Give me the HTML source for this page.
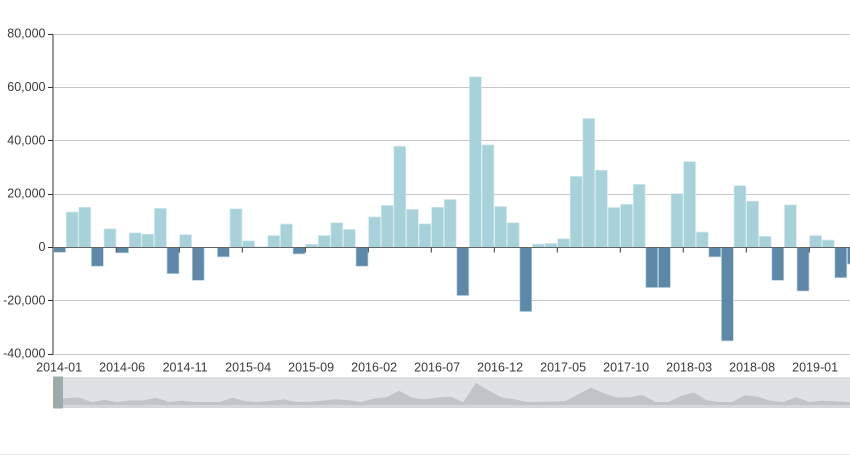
<!DOCTYPE html>
<html lang="en">
<head>
<meta charset="utf-8">
<title>Monthly bar chart</title>
<style>
html,body{margin:0;padding:0;background:#fff;}
svg{display:block;}
text{font-family:"Liberation Sans",sans-serif;font-size:12.5px;fill:#3a3a3a;}
</style>
</head>
<body>
<svg id="chart" xmlns="http://www.w3.org/2000/svg" width="850" height="456" viewBox="0 0 850 456"></svg>
<script>
const categoryStartYear = 2014;
const categoryStartMonth = 1;
const seriesValues = [
  -1800, 13300, 15100, -7000, 7000, -2000, 5500, 5000, 14700, -9800,
  4800, -12300, 0, -3500, 14500, 2500, 300, 4500, 8800, -2400,
  1200, 4500, 9300, 6800, -7000, 11500, 15800, 38000, 14300, 8900,
  15100, 18000, -18000, 64000, 38500, 15400, 9300, -24000, 1300, 1500,
  3300, 26700, 48400, 29000, 15000, 16200, 23700, -15000, -15000, 20200,
  32200, 5800, -3500, -35000, 23200, 17400, 4200, -12300, 16000, -16300,
  4500, 2800, -11300, -6200
];
const yTicks = [80000, 60000, 40000, 20000, 0, -20000, -40000];
const labelInterval = 5;

const svg = document.getElementById('chart');
const NS = 'http://www.w3.org/2000/svg';
const plotLeft = 53.3, plotRight = 850, plotTop = 34.2, plotBottom = 354.2;
const bandWidth = 12.6;
const shadowStep = 12.81;
const yMax = 80000, yMin = -40000;
const thumbTop = 377, thumbBottom = 408, thumbBase = 405, thumbZero = 402, thumbPerUnit = 19 / 64000;

function yScale(v) {
  return plotTop + (yMax - v) / (yMax - yMin) * (plotBottom - plotTop);
}
function ySnap(v) {
  return Math.floor(yScale(v)) + 0.5;
}
function xBand(i) {
  return plotLeft + i * bandWidth;
}
function xShadow(i) {
  return plotLeft + i * shadowStep;
}
function yShadow(v) {
  return thumbZero - Math.max(0, v) * thumbPerUnit;
}
function categoryLabel(i) {
  const m = categoryStartMonth - 1 + i;
  const year = categoryStartYear + Math.floor(m / 12);
  const month = (m % 12) + 1;
  return year + '-' + String(month).padStart(2, '0');
}
function make(tag, attrs, parent) {
  const el = document.createElementNS(NS, tag);
  for (const k in attrs) el.setAttribute(k, attrs[k]);
  (parent || svg).appendChild(el);
  return el;
}

// Clip region so the trailing bar is cut at the edge of the canvas
const defs = make('defs', {});
const clip = make('clipPath', {id: 'plot-clip'}, defs);
make('rect', {x: plotLeft, y: 0, width: plotRight - plotLeft, height: 456}, clip);

// Grid lines
yTicks.forEach(function (t) {
  const line = make('line', {x1: plotLeft, x2: plotRight, y1: ySnap(t), y2: ySnap(t), stroke: '#c8c8c8', 'stroke-width': 1});
  
  
});

// Bars
const barLayer = make('g', {'clip-path': 'url(#plot-clip)'});


seriesValues.forEach(function (v, i) {
  const y0 = yScale(0), y1 = yScale(v);
  const bar = make('rect', {
    x: xBand(i) + 0.35,
    y: Math.min(y0, y1),
    width: bandWidth - 0.7,
    height: Math.abs(y1 - y0),
    fill: v >= 0 ? '#a7d2d9' : '#5d88a8',
    stroke: v >= 0 ? '#d3e9ec' : '#b9d2e0',
    'stroke-width': 0.7
  }, barLayer);
  
  
});

// Y axis
const yAxis = make('line', {x1: 53, x2: 53, y1: plotTop, y2: plotBottom + 0.5, stroke: '#999', 'stroke-width': 2});


yTicks.forEach(function (t) {
  const tick = make('line', {x1: 48, x2: 53, y1: ySnap(t), y2: ySnap(t), stroke: '#333', 'stroke-width': 1});
  
  
  const label = make('text', {x: 45.5, y: yScale(t) + 3.5, 'text-anchor': 'end'});
  label.textContent = t.toLocaleString('en-US');
  
  
});

// X axis on the zero line
const xAxis = make('line', {x1: plotLeft, x2: plotRight, y1: ySnap(0), y2: ySnap(0), stroke: '#666', 'stroke-width': 1});


seriesValues.forEach(function (v, i) {
  if (i % labelInterval !== 0) return;
  const x = xBand(i);
  if (i > 0) {
    const tick = make('line', {x1: x, x2: x, y1: ySnap(0), y2: ySnap(0) + 5, stroke: '#333', 'stroke-width': 1});
    
    
  }
  const label = make('text', {x: x + bandWidth / 2 - 0.5, y: 371.5, 'text-anchor': 'middle'});
  label.textContent = categoryLabel(i);
  
  
});

// Data zoom slider
const zoom = make('g', {'clip-path': 'url(#plot-clip)'});


const track = make('rect', {x: 53, y: thumbTop, width: 797, height: thumbBottom - thumbTop, fill: '#dfe2e5'}, zoom);


make('rect', {x: 53, y: thumbBase, width: 797, height: thumbBottom - thumbBase, fill: '#d3d6d8'}, zoom);
let d = 'M' + xShadow(0) + ' ' + thumbBase;
seriesValues.forEach(function (v, i) {
  d += ' L' + xShadow(i).toFixed(1) + ' ' + yShadow(v).toFixed(1);
});
d += ' L' + xShadow(seriesValues.length - 1).toFixed(1) + ' ' + thumbBase + ' Z';
const shadow = make('path', {d: d, fill: '#c0c4c7'}, zoom);



const handle = make('rect', {x: 53, y: 376.5, width: 10, height: 32, rx: 1, fill: '#9aabaa'});



// Bottom divider
const divider = make('line', {x1: 0, x2: 850, y1: 454.5, y2: 454.5, stroke: '#e9e9e9', 'stroke-width': 1});


</script>
</body>
</html>
